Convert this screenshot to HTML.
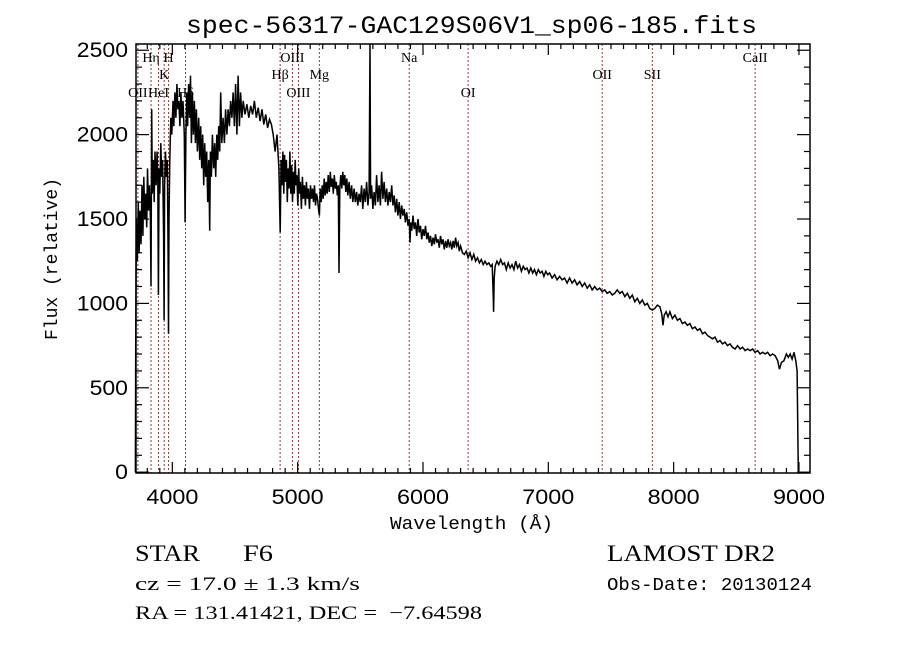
<!DOCTYPE html>
<html><head><meta charset="utf-8"><style>
body{margin:0;background:#fff;}
svg{display:block;}
</style></head><body>
<svg id="chart" width="900" height="649" xmlns="http://www.w3.org/2000/svg">
<rect x="0" y="0" width="900" height="649" fill="#fff"/>
<text x="186" y="33" textLength="571" lengthAdjust="spacingAndGlyphs" font-family="Liberation Mono, monospace" font-size="25">spec-56317-GAC129S06V1_sp06-185.fits</text>
<g id="lines"></g><g id="axes"></g><g id="series"></g>
<text transform="translate(57,259) rotate(-90)" text-anchor="middle" font-family="Liberation Mono, monospace" font-size="18">Flux (relative)</text>
<text x="390" y="529" textLength="163" lengthAdjust="spacingAndGlyphs" font-family="Liberation Mono, monospace" font-size="18">Wavelength (Å)</text>
<text x="135" y="561" textLength="65" lengthAdjust="spacingAndGlyphs" font-family="Liberation Serif, serif" font-size="23">STAR</text>
<text x="243" y="561" textLength="30" lengthAdjust="spacingAndGlyphs" font-family="Liberation Serif, serif" font-size="23">F6</text>
<text x="607" y="561" textLength="168" lengthAdjust="spacingAndGlyphs" font-family="Liberation Serif, serif" font-size="23">LAMOST DR2</text>
<text x="135" y="590" textLength="225" lengthAdjust="spacingAndGlyphs" font-family="Liberation Serif, serif" font-size="19">cz = 17.0 ± 1.3 km/s</text>
<text x="607" y="590" textLength="205" lengthAdjust="spacingAndGlyphs" font-family="Liberation Mono, monospace" font-size="18">Obs-Date: 20130124</text>
<text x="135" y="619" textLength="347" lengthAdjust="spacingAndGlyphs" font-family="Liberation Serif, serif" font-size="19" style="white-space:pre">RA = 131.41421, DEC =  −7.64598</text>
</svg>
<script>
const wavelengths=[3705,3708,3712,3720,3728,3735,3742,3750,3758,3765,3772,3780,3788,3795,3802,3810,3818,3825,3830,3835,3840,3848,3855,3862,3870,3878,3884,3889,3894,3900,3908,3915,3922,3930,3934,3938,3945,3952,3960,3966,3969,3973,3980,3988,3996,4005,4012,4020,4028,4036,4044,4052,4060,4068,4076,4085,4095,4102,4108,4115,4122,4130,4138,4145,4152,4160,4168,4176,4184,4192,4200,4210,4218,4226,4234,4242,4250,4258,4266,4274,4282,4290,4298,4304,4312,4320,4330,4338,4346,4355,4362,4370,4378,4386,4395,4405,4415,4425,4435,4445,4455,4465,4475,4485,4495,4505,4515,4525,4535,4545,4555,4565,4580,4595,4610,4625,4640,4655,4670,4685,4700,4715,4730,4745,4760,4775,4790,4805,4820,4835,4850,4861,
4868,4875,4882,4889,4896,4903,4910,4917,4924,4931,4938,4945,4952,4959,4966,4973,4980,4987,4994,5001,5008,5015,5022,5030,5038,5046,5054,5062,5070,5078,5086,5094,5102,5110,5118,5126,5134,5142,5150,5158,5166,5173,5180,5188,5196,5204,5212,5220,5228,5236,5244,5252,5260,5268,5276,5284,5292,5300,5308,5316,5324,5330,5336,5344,5352,5360,5368,5376,5384,5392,5400,5410,5420,5430,5440,5450,5460,5470,5480,5490,5500,5510,5520,5530,5540,5550,5560,5570,5577,5582,5590,5600,5610,5620,5630,5640,5650,5660,5670,5680,5690,5700,5710,5720,5730,5740,5750,5760,5770,5780,5790,5800,5810,5820,5830,5840,5850,5860,5870,5880,5890,5896,5902,5910,5920,5930,5940,5950,5960,5970,5980,5990,6000,6010,6020,6030,6040,6050,6060,6070,6080,6090,6100,6110,6120,6130,6140,6150,6160,6170,6180,6190,6200,6210,6220,6230,6240,6250,6260,6270,6280,6290,6300,6315,6330,6345,6360,6375,6390,6405,6420,6435,6450,6465,6480,6495,6510,6525,6540,6552,6560,6563,6568,6575,6590,6605,6620,6635,6650,6665,6680,6695,6710,6725,6740,6755,6770,6785,6800,6815,6830,6845,6860,6875,6890,6905,6920,6935,6950,6965,6980,6995,7010,7030,7050,7070,7090,7110,7130,7150,7170,7190,7210,7230,7250,7270,7290,7310,7330,7350,7370,7390,7410,7430,7450,7470,7490,7510,7530,7550,7570,7590,7610,7630,7650,7670,7690,7710,7730,7750,7770,7790,7810,7830,7850,7870,7890,7905,7915,7925,7940,7955,7970,7990,8010,8030,8050,8070,8090,8110,8130,8150,8170,8190,8210,8230,8250,8270,8290,8310,8330,8350,8370,8390,8410,8430,8450,8470,8490,8510,8530,8550,8570,8590,8610,8630,8650,8670,8690,8710,8730,8750,8770,8790,8810,8830,8845,8860,8880,8900,8915,8930,8945,8960,8975,8985,8995];
const fluxes=[0,700,1500,1250,1600,1300,1550,1350,1700,1400,1750,1500,1650,1450,1800,1550,1700,1500,1100,2150,1650,1850,1600,1900,1700,1900,1750,1050,1800,1650,1950,1750,1850,1400,900,1700,1900,1750,1850,1300,820,1500,1850,2100,2000,2200,2050,2250,2100,2300,2150,2200,2050,2250,2100,2200,2000,1480,2000,2250,2050,2300,2100,2350,1950,2250,2000,2200,1950,2150,1900,2100,1850,2050,1800,2000,1700,1950,1750,1900,1600,1850,1430,1900,1750,2000,1800,1950,1750,2000,1850,2050,1900,2250,1950,2100,1950,2150,2000,2150,2050,2200,2100,2250,2050,2300,2000,2350,2050,2250,2100,2200,2120,2180,2100,2170,2120,2200,2100,2160,2080,2150,2060,2120,2040,2090,2060,2000,1900,2000,1800,1420,
1850,1700,1900,1650,1880,1720,1850,1600,1800,1680,1900,1650,1820,1600,1780,1650,1850,1700,1760,1580,1800,1650,1720,1560,1750,1620,1700,1580,1720,1620,1680,1560,1700,1620,1680,1600,1700,1580,1650,1620,1560,1520,1680,1600,1700,1620,1740,1640,1720,1650,1760,1660,1780,1690,1740,1650,1760,1680,1720,1640,1700,1180,1680,1760,1680,1780,1700,1760,1660,1740,1640,1720,1620,1700,1600,1680,1600,1660,1580,1650,1600,1700,1560,1680,1600,1720,1580,1660,2540,1620,1700,1560,1660,1580,1760,1600,1700,1580,1780,1620,1720,1600,1680,1580,1660,1600,1700,1580,1640,1540,1620,1520,1600,1500,1580,1520,1560,1480,1540,1460,1500,1360,1480,1430,1520,1440,1480,1400,1500,1420,1460,1380,1440,1400,1460,1380,1420,1360,1400,1340,1390,1350,1410,1360,1380,1330,1400,1350,1380,1320,1370,1330,1380,1340,1360,1320,1370,1330,1390,1340,1360,1310,1340,1300,1290,1310,1270,1300,1260,1290,1250,1270,1240,1260,1230,1250,1230,1240,1220,1230,1050,950,1150,1220,1250,1230,1260,1230,1240,1200,1240,1210,1230,1200,1250,1210,1230,1190,1220,1200,1210,1180,1210,1180,1200,1170,1200,1180,1190,1160,1190,1170,1180,1150,1170,1140,1160,1140,1150,1120,1150,1120,1140,1110,1130,1100,1120,1090,1110,1080,1100,1080,1090,1070,1080,1060,1070,1050,1060,1080,1060,1070,1040,1060,1030,1050,1010,1030,1000,1020,990,1000,970,960,970,990,980,940,870,930,950,920,950,910,930,900,910,880,890,870,880,850,860,840,850,820,830,810,800,790,800,770,780,760,770,750,760,740,730,750,730,740,720,730,720,730,710,720,700,710,700,710,690,700,690,660,610,650,660,700,680,700,670,710,660,600,0];
const lineWaves=[3725,3830,3890,3935,3970,4105,4860,4958,5006,5173,5890,6360,7430,7830,8650];
const lineNames=["OII","Hη","HeI","K","H","Hδ","Hβ","OIII","OIII","Mg","Na","OI","OII","SII","CaII"];
const lineRows=[3,1,3,2,1,3,2,1,3,2,1,3,2,2,1];
const xTicks=[4000,5000,6000,7000,8000,9000];
const yTicks=[0,500,1000,1500,2000,2500];

const L=136,R=810,T=44,B=473,XMIN=3710,XMAX=9088,YMIN=-5,YMAX=2537;
const sx=w=>L+(w-XMIN)/(XMAX-XMIN)*(R-L);
const sy=f=>B-(f-YMIN)/(YMAX-YMIN)*(B-T);
const NS='http://www.w3.org/2000/svg';
function mk(tag,attrs,parent){const e=document.createElementNS(NS,tag);for(const k in attrs)e.setAttribute(k,attrs[k]);parent.appendChild(e);return e;}
const axes=document.getElementById('axes'),lines=document.getElementById('lines'),series=document.getElementById('series');
const frame=mk('rect',{x:L,y:T,width:R-L,height:B-T,fill:'none',stroke:'#000','stroke-width':1.5},axes);


for(let w=3800;w<=9000;w+=100){
  const x=sx(w),major=w%1000===0,len=major?11:5;
  mk('line',{x1:x,y1:B,x2:x,y2:B-len,stroke:'#000','stroke-width':1.2},axes);
  mk('line',{x1:x,y1:T,x2:x,y2:T+len,stroke:'#000','stroke-width':1.2},axes);
}
xTicks.forEach(v=>{
  const t=mk('text',{x:sx(v)-26,y:B+31,textLength:52,lengthAdjust:'spacingAndGlyphs','font-family':'Liberation Sans, sans-serif','font-size':21},axes);
  
  
  t.textContent=v;
});
for(let f=0;f<=2500;f+=100){
  const y=sy(f),major=f%500===0,len=major?13:6;
  mk('line',{x1:L,y1:y,x2:L+len,y2:y,stroke:'#000','stroke-width':1.2},axes);
  mk('line',{x1:R,y1:y,x2:R-len,y2:y,stroke:'#000','stroke-width':1.2},axes);
}
yTicks.forEach(v=>{
  const n=String(v).length,w=n*12.8;
  const t=mk('text',{x:128-w,y:sy(v)+7,textLength:w,lengthAdjust:'spacingAndGlyphs','font-family':'Liberation Sans, sans-serif','font-size':21},axes);
  
  
  t.textContent=v;
});
const rowY={1:62,2:79,3:97};
lineWaves.forEach((w,i)=>{
  const x=sx(w);
  const l=mk('line',{x1:x,y1:T,x2:x,y2:B,stroke:'#8a3a3a','stroke-width':1,'stroke-dasharray':'2,2'},lines);
  
  
  const t=mk('text',{x:x,y:rowY[lineRows[i]],'text-anchor':'middle','font-family':'Liberation Serif, serif','font-size':14},lines);
  
  
  t.textContent=lineNames[i];
});
const pts=wavelengths.map((w,i)=>sx(w).toFixed(1)+','+sy(fluxes[i]).toFixed(1)).join(' ');
const pl=mk('polyline',{points:pts,fill:'none',stroke:'#000','stroke-width':1.5,'stroke-linejoin':'miter'},series);


</script>
</body></html>
